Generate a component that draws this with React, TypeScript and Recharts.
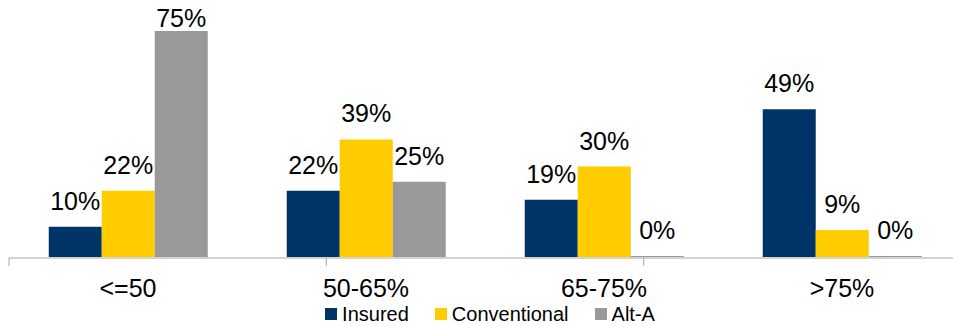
import { BarChart, Bar, XAxis, YAxis, Legend, LabelList } from 'recharts';

const CATEGORIES = ['<=50', '50-65%', '65-75%', '>75%'];
const INSURED = [10, 22, 19, 49];
const CONVENTIONAL = [22, 39, 30, 9];
const ALT_A = [75, 25, 0, 0];
const BOUNDARY_TICKS = [0, 1, 2, 3, 4];

const SERIES = [
  { key: 'insured', name: 'Insured', color: '#003366' },
  { key: 'conventional', name: 'Conventional', color: '#FFCC00' },
  { key: 'altA', name: 'Alt-A', color: '#999999' },
];

const data = CATEGORIES.map((cat, i) => ({
  cat,
  insured: INSURED[i],
  conventional: CONVENTIONAL[i],
  altA: ALT_A[i],
}));

const FONT = '"Liberation Sans", Arial, sans-serif';

function BarValue(props: any) {
  const { x, y, width, value } = props;
  const ty = Math.max(Number(y) - 17, 27);
  return (
    <text
      x={Number(x) + Number(width) / 2}
      y={ty}
      textAnchor="middle"
      fontSize={25}
      fontFamily={FONT}
      fill="#000"
    >
      {`${value}%`}
    </text>
  );
}

function LegendContent() {
  return (
    <div
      style={{
        display: 'flex',
        justifyContent: 'center',
        alignItems: 'center',
        height: 24,
        paddingLeft: 10,
        fontFamily: FONT,
        fontSize: 20,
        color: '#000',
      }}
    >
      {SERIES.map((s, i) => (
        <div
          key={s.key}
          style={{ display: 'flex', alignItems: 'center', marginLeft: i === 0 ? 0 : 26 }}
        >
          <span style={{ width: 12, height: 12, background: s.color, marginRight: 5, display: 'inline-block' }} />
          <span>{s.name}</span>
        </div>
      ))}
    </div>
  );
}

function EmptyTick() {
  return <g />;
}

export default function App() {
  return (
    <div style={{ position: 'absolute', left: 0, top: 0, width: 953, height: 326, overflow: 'hidden', background: '#fff' }}>
      <BarChart
        width={980}
        height={326}
        data={data}
        margin={{ top: 31, right: 19, left: 9, bottom: 43 }}
        barCategoryGap="16.7%"
        barGap={0}
      >
        <XAxis
          xAxisId="bounds"
          type="number"
          domain={[0, 4]}
          ticks={BOUNDARY_TICKS}
          height={1}
          tick={<EmptyTick />}
          tickSize={8}
          tickLine={{ stroke: '#A6A6A6' }}
          axisLine={{ stroke: '#A6A6A6' }}
        />
        <XAxis
          dataKey="cat"
          height={1}
          axisLine={false}
          tickLine={false}
          tickSize={0}
          tickMargin={22}
          interval={0}
          tick={{ fontSize: 25, fontFamily: FONT, fill: '#000' }}
        />
        <YAxis hide domain={[0, 75]} />
        <Legend verticalAlign="bottom" content={<LegendContent />} wrapperStyle={{ bottom: 0 }} />
        {SERIES.map((s) => (
          <Bar
            key={s.key}
            dataKey={s.key}
            name={s.name}
            fill={s.color}
            minPointSize={1}
            isAnimationActive={false}
          >
            <LabelList dataKey={s.key} content={<BarValue />} />
          </Bar>
        ))}
      </BarChart>
    </div>
  );
}
